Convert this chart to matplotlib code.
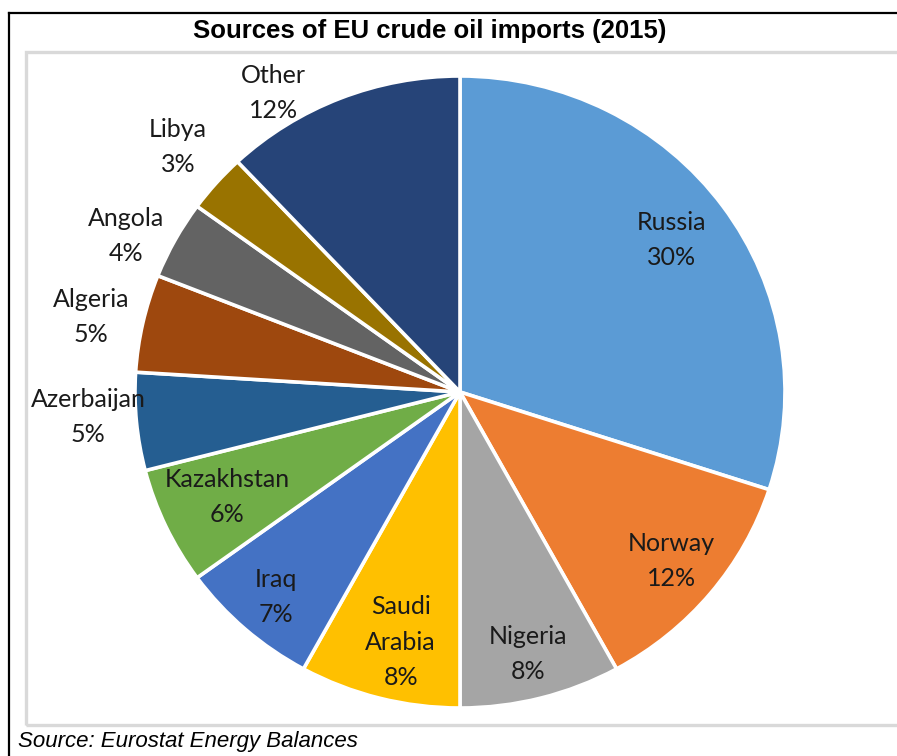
import matplotlib
matplotlib.use("Agg")
import matplotlib.pyplot as plt
from matplotlib.patches import Rectangle
from matplotlib.lines import Line2D
import numpy as np

countries = ["Russia", "Norway", "Nigeria", "Saudi\nArabia", "Iraq", "Kazakhstan",
             "Azerbaijan", "Algeria", "Angola", "Libya", "Other"]
shares = [30, 12, 8, 8, 7, 6, 5, 5, 4, 3, 12]
colors = ["#5B9BD5", "#ED7D31", "#A5A5A5", "#FFC000", "#4472C4", "#70AD47",
          "#255E91", "#9E480E", "#636363", "#997300", "#264478"]
title = "Sources of EU crude oil imports (2015)"
source = "Source: Eurostat Energy Balances"

# label placement style (radial factor, angular offset in degrees)
label_r = [0.808, 0.843, 0.855, 0.812, 0.861, 0.790, 1.147, 1.160, 1.140, 1.163, 1.107]
label_da = [0.5, 0.2, -0.2, 1.4, 0.3, -0.4, -1.45, 0.8, 3.1, -0.4, 9.7]

W, H = 897, 756
fig = plt.figure(figsize=(W / 100, H / 100), dpi=100)
fig.patch.set_facecolor("white")

# outer black frame (left & top)
fig.add_artist(Line2D([9 / W, 9 / W], [0, 1 - 12.5 / H], color="black", lw=1.6,
                      transform=fig.transFigure))
fig.add_artist(Line2D([9 / W, 1.0], [1 - 12.5 / H, 1 - 12.5 / H], color="black", lw=1.6,
                      transform=fig.transFigure))
# gray inner box
fig.add_artist(Rectangle((26 / W, 1 - 725 / H), (W + 20 - 26) / W, (725 - 52) / H,
                         fill=False, edgecolor="#D9D9D9", lw=2.4, transform=fig.transFigure))

cx, cy, rx, ry = 460, 392, 325, 316
ax = fig.add_axes([(cx - rx) / W, 1 - (cy + ry) / H, 2 * rx / W, 2 * ry / H])
wedges, _ = ax.pie(shares, colors=colors, startangle=90, counterclock=False,
                   radius=1.0, wedgeprops=dict(edgecolor="white", linewidth=2.6))
ax.set_aspect("auto")
ax.set_xlim(-1, 1)
ax.set_ylim(-1, 1)
ax.axis("off")

total = sum(shares)
start = 90.0
for name, v, f, da in zip(countries, shares, label_r, label_da):
    span = 360.0 * v / total
    mid = np.deg2rad(start - span / 2 + da)
    start -= span
    ax.text(f * np.cos(mid), f * np.sin(mid), f"{name}\n{v}%", ha="center", va="center",
            fontsize=18, family=["Lato", "DejaVu Sans"], color="#1a1a1a",
            linespacing=1.65, clip_on=False)

fig.text(430 / W, 1 - 31 / H, title, ha="center", va="center", fontsize=18.5,
         fontweight="bold", family="Liberation Sans")
fig.text(18 / W, 1 - 741 / H, source, ha="left", va="center", fontsize=16,
         style="italic", family="Liberation Sans")

fig.savefig("out.png", dpi=100)
